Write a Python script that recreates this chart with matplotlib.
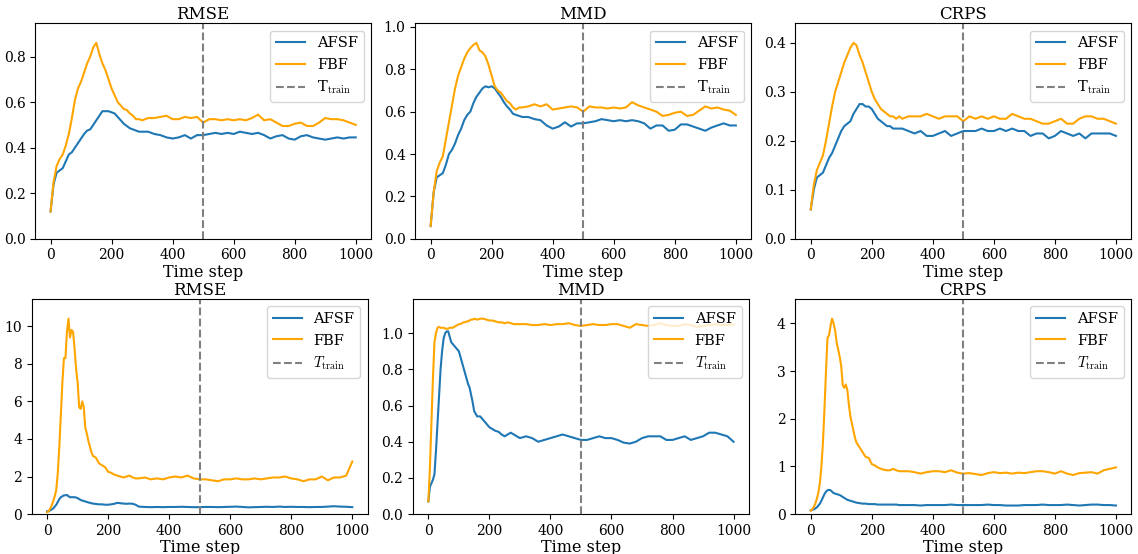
import numpy as np
import matplotlib
matplotlib.use("Agg")
import matplotlib.pyplot as plt

plt.rcParams['font.family'] = 'serif'
plt.rcParams['font.serif'] = ['DejaVu Serif']
plt.rcParams['mathtext.fontset'] = 'cm'

steps_top = list(range(0, 300, 10)) + list(range(300, 1001, 20))
steps_bot = list(range(0, 150, 5)) + list(range(150, 300, 10)) + list(range(300, 1001, 20))

# --- top row ---
rmse_afsf_top = [0.12, 0.24, 0.29, 0.30, 0.31, 0.34, 0.37, 0.38, 0.40, 0.42, 0.44, 0.46, 0.475, 0.48, 0.50,
                 0.52, 0.54, 0.56, 0.56, 0.56, 0.555, 0.55, 0.535, 0.52, 0.505, 0.495, 0.485, 0.48, 0.475, 0.47,
                 0.47, 0.47, 0.46, 0.455, 0.445, 0.44, 0.445, 0.455, 0.44, 0.455, 0.455, 0.46, 0.465, 0.46, 0.465,
                 0.46, 0.47, 0.465, 0.46, 0.465, 0.455, 0.44, 0.45, 0.455, 0.44, 0.435, 0.45, 0.455, 0.445, 0.44,
                 0.435, 0.44, 0.445, 0.44, 0.445, 0.445]
rmse_fbf_top = [0.12, 0.25, 0.32, 0.35, 0.37, 0.41, 0.46, 0.53, 0.61, 0.66, 0.69, 0.73, 0.77, 0.80, 0.84,
                0.86, 0.81, 0.77, 0.74, 0.70, 0.66, 0.63, 0.60, 0.585, 0.57, 0.565, 0.55, 0.54, 0.525, 0.525,
                0.52, 0.53, 0.53, 0.535, 0.54, 0.525, 0.525, 0.535, 0.53, 0.535, 0.51, 0.525, 0.525, 0.52, 0.525,
                0.52, 0.525, 0.52, 0.53, 0.545, 0.52, 0.525, 0.51, 0.495, 0.495, 0.505, 0.51, 0.495, 0.495, 0.51,
                0.53, 0.525, 0.525, 0.52, 0.51, 0.50]
mmd_afsf_top = [0.06, 0.22, 0.29, 0.30, 0.31, 0.35, 0.40, 0.42, 0.45, 0.49, 0.52, 0.56, 0.585, 0.60, 0.64,
                0.67, 0.69, 0.71, 0.72, 0.715, 0.72, 0.71, 0.69, 0.67, 0.645, 0.625, 0.61, 0.59, 0.585, 0.58,
                0.575, 0.575, 0.565, 0.56, 0.535, 0.52, 0.53, 0.55, 0.53, 0.545, 0.545, 0.55, 0.555, 0.565, 0.56,
                0.555, 0.56, 0.555, 0.56, 0.555, 0.545, 0.52, 0.535, 0.535, 0.51, 0.515, 0.54, 0.54, 0.53, 0.52,
                0.51, 0.525, 0.535, 0.545, 0.535, 0.535]
mmd_fbf_top = [0.06, 0.22, 0.32, 0.36, 0.39, 0.47, 0.55, 0.63, 0.71, 0.77, 0.81, 0.85, 0.88, 0.90, 0.915,
               0.925, 0.89, 0.88, 0.86, 0.82, 0.77, 0.72, 0.70, 0.69, 0.67, 0.65, 0.64, 0.62, 0.61, 0.62,
               0.62, 0.625, 0.635, 0.625, 0.635, 0.61, 0.615, 0.62, 0.625, 0.62, 0.60, 0.625, 0.62, 0.62, 0.615,
               0.62, 0.615, 0.62, 0.645, 0.63, 0.62, 0.61, 0.60, 0.58, 0.585, 0.595, 0.60, 0.58, 0.585, 0.605,
               0.625, 0.615, 0.62, 0.61, 0.605, 0.585]
crps_afsf_top = [0.06, 0.10, 0.125, 0.13, 0.135, 0.15, 0.165, 0.175, 0.19, 0.205, 0.22, 0.23, 0.235, 0.24, 0.255,
                 0.265, 0.275, 0.275, 0.27, 0.27, 0.265, 0.255, 0.245, 0.24, 0.235, 0.23, 0.23, 0.225, 0.225, 0.225,
                 0.225, 0.22, 0.215, 0.22, 0.21, 0.21, 0.215, 0.22, 0.21, 0.215, 0.22, 0.22, 0.22, 0.225, 0.22,
                 0.22, 0.225, 0.22, 0.225, 0.22, 0.22, 0.21, 0.215, 0.215, 0.205, 0.21, 0.22, 0.215, 0.21, 0.215,
                 0.205, 0.215, 0.215, 0.215, 0.215, 0.21]
crps_fbf_top = [0.06, 0.11, 0.14, 0.155, 0.17, 0.20, 0.235, 0.27, 0.30, 0.32, 0.34, 0.36, 0.375, 0.39, 0.40,
                0.395, 0.375, 0.36, 0.34, 0.32, 0.30, 0.285, 0.275, 0.265, 0.26, 0.255, 0.25, 0.25, 0.245, 0.25,
                0.245, 0.25, 0.25, 0.25, 0.255, 0.25, 0.245, 0.25, 0.25, 0.25, 0.24, 0.25, 0.245, 0.25, 0.245,
                0.25, 0.245, 0.245, 0.255, 0.25, 0.245, 0.245, 0.24, 0.235, 0.235, 0.24, 0.245, 0.235, 0.235, 0.245,
                0.25, 0.25, 0.245, 0.245, 0.24, 0.235]

# --- bottom row ---
rmse_afsf_bot = [0.15, 0.15, 0.2, 0.25, 0.3, 0.4, 0.5, 0.65, 0.8, 0.9, 0.95, 1.0, 1.0, 1.02, 0.95,
                 0.9, 0.9, 0.9, 0.9, 0.88, 0.85, 0.8, 0.75, 0.72, 0.7, 0.67, 0.65, 0.62, 0.6, 0.58,
                 0.56, 0.54, 0.52, 0.52, 0.5, 0.5, 0.52, 0.55, 0.6, 0.58, 0.56, 0.55, 0.56, 0.55, 0.5,
                 0.40, 0.38, 0.37, 0.38, 0.37, 0.38, 0.38, 0.39, 0.38, 0.37, 0.37, 0.38, 0.38, 0.37, 0.38,
                 0.39, 0.40, 0.38, 0.36, 0.37, 0.38, 0.39, 0.38, 0.40, 0.38, 0.39, 0.38, 0.38, 0.37, 0.38,
                 0.38, 0.40, 0.42, 0.40, 0.39, 0.37]
rmse_fbf_bot = [0.1, 0.15, 0.3, 0.45, 0.7, 0.95, 1.3, 2.2, 3.6, 5.3, 7.0, 8.3, 8.3, 9.7, 10.4,
                9.4, 9.8, 9.7, 8.8, 7.7, 7.0, 5.7, 5.6, 6.0, 5.7, 4.6, 4.3, 3.9, 3.6, 3.3,
                3.1, 3.0, 2.7, 2.6, 2.5, 2.25, 2.2, 2.1, 2.05, 2.0, 1.95, 2.0, 2.05, 1.95, 1.9,
                1.9, 1.95, 1.85, 1.9, 1.85, 1.95, 2.0, 1.95, 2.05, 1.9, 1.85, 1.85, 1.8, 1.75, 1.85,
                1.85, 1.9, 1.85, 1.85, 1.9, 1.85, 1.9, 1.95, 1.95, 2.0, 1.9, 1.85, 1.75, 1.85, 1.85,
                2.0, 1.8, 1.95, 1.95, 2.05, 2.8]
mmd_afsf_bot = [0.07, 0.15, 0.17, 0.19, 0.22, 0.35, 0.5, 0.65, 0.8, 0.9, 0.97, 1.0, 1.01, 1.01, 0.98,
                0.95, 0.94, 0.93, 0.92, 0.91, 0.90, 0.87, 0.84, 0.81, 0.78, 0.75, 0.72, 0.70, 0.66, 0.62,
                0.57, 0.54, 0.54, 0.52, 0.50, 0.48, 0.47, 0.46, 0.455, 0.44, 0.43, 0.44, 0.45, 0.44, 0.43,
                0.42, 0.43, 0.42, 0.40, 0.41, 0.42, 0.43, 0.44, 0.43, 0.42, 0.41, 0.41, 0.42, 0.43, 0.42,
                0.42, 0.41, 0.395, 0.39, 0.40, 0.42, 0.43, 0.43, 0.43, 0.41, 0.41, 0.42, 0.43, 0.41, 0.42,
                0.43, 0.45, 0.45, 0.44, 0.43, 0.40]
mmd_fbf_bot = [0.07, 0.25, 0.5, 0.75, 0.95, 1.0, 1.03, 1.035, 1.03, 1.03, 1.03, 1.025, 1.025, 1.025, 1.03,
               1.03, 1.03, 1.035, 1.04, 1.045, 1.05, 1.05, 1.055, 1.06, 1.06, 1.065, 1.065, 1.07, 1.075, 1.075,
               1.08, 1.075, 1.08, 1.08, 1.075, 1.07, 1.07, 1.065, 1.06, 1.06, 1.055, 1.06, 1.055, 1.05, 1.05,
               1.05, 1.05, 1.045, 1.045, 1.05, 1.045, 1.05, 1.05, 1.055, 1.045, 1.04, 1.045, 1.05, 1.045, 1.045,
               1.05, 1.05, 1.04, 1.03, 1.05, 1.045, 1.04, 1.045, 1.055, 1.045, 1.04, 1.04, 1.05, 1.045, 1.035,
               1.04, 1.045, 1.05, 1.045, 1.045, 1.05]
crps_afsf_bot = [0.08, 0.09, 0.1, 0.12, 0.14, 0.18, 0.22, 0.28, 0.35, 0.42, 0.47, 0.5, 0.51, 0.5, 0.47,
                 0.44, 0.43, 0.42, 0.41, 0.4, 0.38, 0.36, 0.34, 0.32, 0.30, 0.29, 0.28, 0.27, 0.26, 0.25,
                 0.24, 0.23, 0.22, 0.22, 0.21, 0.21, 0.21, 0.2, 0.2, 0.2, 0.2, 0.2, 0.2, 0.2, 0.19,
                 0.19, 0.19, 0.19, 0.18, 0.19, 0.19, 0.19, 0.19, 0.2, 0.19, 0.19, 0.19, 0.19, 0.19, 0.2,
                 0.19, 0.19, 0.18, 0.18, 0.18, 0.19, 0.19, 0.19, 0.2, 0.19, 0.19, 0.19, 0.2, 0.19, 0.18,
                 0.19, 0.2, 0.2, 0.19, 0.19, 0.18]
crps_fbf_bot = [0.07, 0.1, 0.15, 0.22, 0.32, 0.45, 0.65, 1.0, 1.5, 2.2, 3.0, 3.7, 3.75, 3.95, 4.1,
                4.0, 3.85, 3.6, 3.45, 3.3, 3.1, 2.7, 2.65, 2.72, 2.6, 2.3, 2.05, 1.9, 1.75, 1.6,
                1.5, 1.4, 1.3, 1.2, 1.18, 1.05, 1.02, 0.98, 0.95, 0.93, 0.92, 0.92, 0.95, 0.92, 0.9,
                0.9, 0.9, 0.88, 0.85, 0.88, 0.9, 0.9, 0.88, 0.92, 0.87, 0.85, 0.86, 0.84, 0.82, 0.86,
                0.88, 0.86, 0.87, 0.85, 0.87, 0.86, 0.88, 0.9, 0.9, 0.88, 0.85, 0.9, 0.85, 0.82, 0.86,
                0.87, 0.88, 0.85, 0.92, 0.95, 0.98]

titles = ['RMSE', 'MMD', 'CRPS']
t_train = 500

top_series = [(rmse_afsf_top, rmse_fbf_top), (mmd_afsf_top, mmd_fbf_top), (crps_afsf_top, crps_fbf_top)]
bot_series = [(rmse_afsf_bot, rmse_fbf_bot), (mmd_afsf_bot, mmd_fbf_bot), (crps_afsf_bot, crps_fbf_bot)]

fig = plt.figure(figsize=(11.38, 5.54), dpi=100)

lefts_top = [0.031, 0.365, 0.699]
lefts_bot = [0.028, 0.363, 0.699]
rows = [
    (steps_top, top_series, lefts_top, 0.569, 0.389, r'T$_{\rm train}$'),
    (steps_bot, bot_series, lefts_bot, 0.072, 0.388, r'$T_{\rm train}$'),
]

for steps, series, lefts, bottom, height, vlabel in rows:
    for i, (afsf, fbf) in enumerate(series):
        ax = fig.add_axes([lefts[i], bottom, 0.295, height])
        ax.plot(steps, afsf, color='#1f77b4', lw=1.5, label='AFSF')
        ax.plot(steps, fbf, color='orange', lw=1.5, label='FBF')
        ax.axvline(t_train, color='gray', ls='--', lw=1.5, label=vlabel)
        ax.set_ylim(0, 1.1 * max(max(afsf), max(fbf)))
        ax.set_title(titles[i], fontsize=12, pad=3)
        ax.set_xlabel('Time step', fontsize=11.5, labelpad=1)
        ax.tick_params(labelsize=10)
        ax.legend(loc='upper right', fontsize=10.5)

fig.savefig('out.png', dpi=100)
